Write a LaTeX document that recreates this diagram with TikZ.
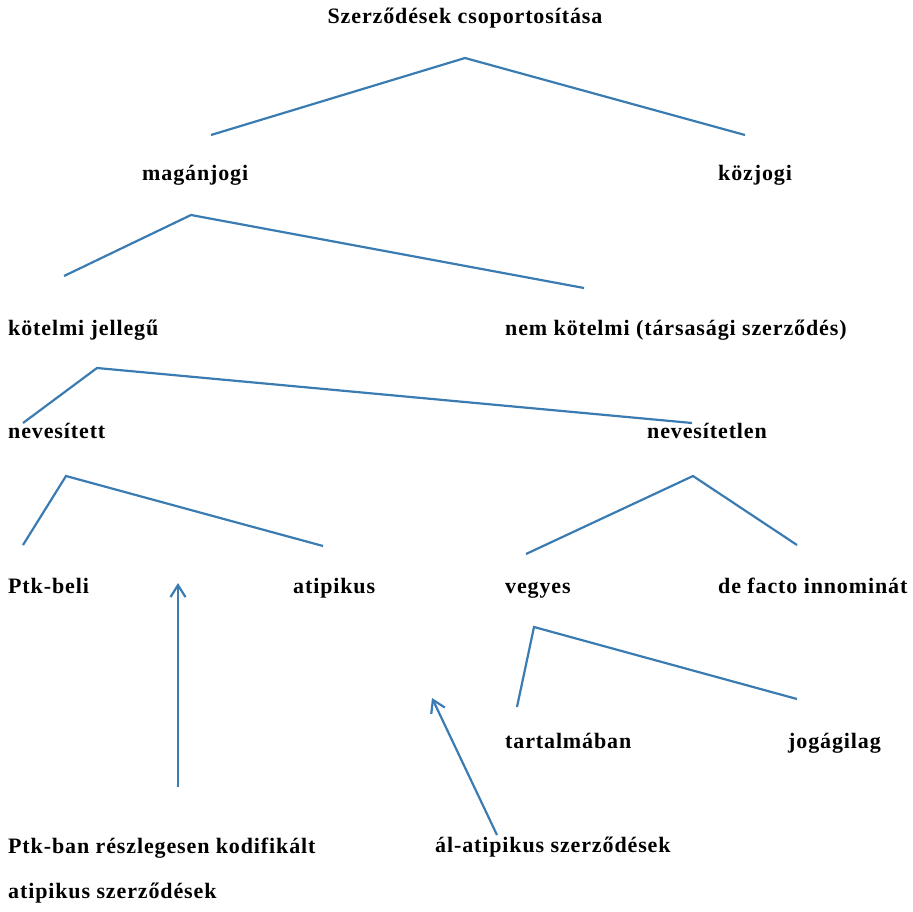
\documentclass[tikz,border=0pt]{standalone}
\usepackage{fontspec}
\setmainfont{Liberation Serif}[LetterSpace=4]
\usepackage{xcolor}
\usetikzlibrary{arrows.meta}
\definecolor{treeblue}{RGB}{58,124,178}

\begin{document}
\begin{tikzpicture}[x=1pt, y=-1pt,
  font=\fontsize{22}{26}\selectfont\bfseries,
  term/.style={anchor=base west, inner sep=0pt},
  branch/.style={treeblue, line width=2.2pt},
  pointer/.style={treeblue, line width=2.2pt, -{Straight Barb[length=12pt, width=15pt]}}]
  \useasboundingbox (0,0) rectangle (913,911);
  % labels, placed on their baselines
  \node[anchor=base, inner sep=0pt] (root) at (465,23) {Szerződések csoportosítása};
  \node[term] (mag) at (142,180) {magánjogi};
  \node[term] (koz) at (718,180) {közjogi};
  \node[term] (kot) at (8,335) {kötelmi jellegű};
  \node[term] (nemkot) at (505,335) {nem kötelmi (társasági szerződés)};
  \node[term] (nev) at (8,438) {nevesített};
  \node[term] (nevtl) at (647,438) {nevesítetlen};
  \node[term] (ptkb) at (8,593) {Ptk-beli};
  \node[term] (atip) at (293,593) {atipikus};
  \node[term] (vegy) at (505,593) {vegyes};
  \node[term] (defacto) at (718,593) {de facto innominát};
  \node[term] (tart) at (505,748) {tartalmában};
  \node[term] (jog) at (788,748) {jogágilag};
  \node[term] (ptkr) at (8,853) {Ptk-ban részlegesen kodifikált};
  \node[term] (alat) at (435,852) {ál-atipikus szerződések};
  \node[term] (atsz) at (8,898) {atipikus szerződések};
  % branch corners (the lines float free of the labels)
  \coordinate (r0) at (465,58);  \coordinate (r1) at (211,135); \coordinate (r2) at (745,135);
  \coordinate (m0) at (191,215); \coordinate (m1) at (64,276);  \coordinate (m2) at (584,288);
  \coordinate (k0) at (97,368);  \coordinate (k1) at (23,423);  \coordinate (k2) at (692,423);
  \coordinate (n0) at (66,476);  \coordinate (n1) at (23,545);  \coordinate (n2) at (323,546);
  \coordinate (t0) at (693,476); \coordinate (t1) at (526,554); \coordinate (t2) at (797,545);
  \coordinate (v0) at (534,627); \coordinate (v1) at (517,707); \coordinate (v2) at (797,699);
  \draw[branch] (r1) -- (r0) -- (r2);
  \draw[branch] (m1) -- (m0) -- (m2);
  \draw[branch] (k1) -- (k0) -- (k2);
  \draw[branch] (n1) -- (n0) -- (n2);
  \draw[branch] (t1) -- (t0) -- (t2);
  \draw[branch] (v1) -- (v0) -- (v2);
  % pointers from the lower notes
  \coordinate (p1) at (178,787); \coordinate (q1) at (178,583);
  \coordinate (p2) at (497,835); \coordinate (q2) at (432,698);
  \draw[pointer] (p1) -- (q1);
  \draw[pointer] (p2) -- (q2);
\end{tikzpicture}
\end{document}
